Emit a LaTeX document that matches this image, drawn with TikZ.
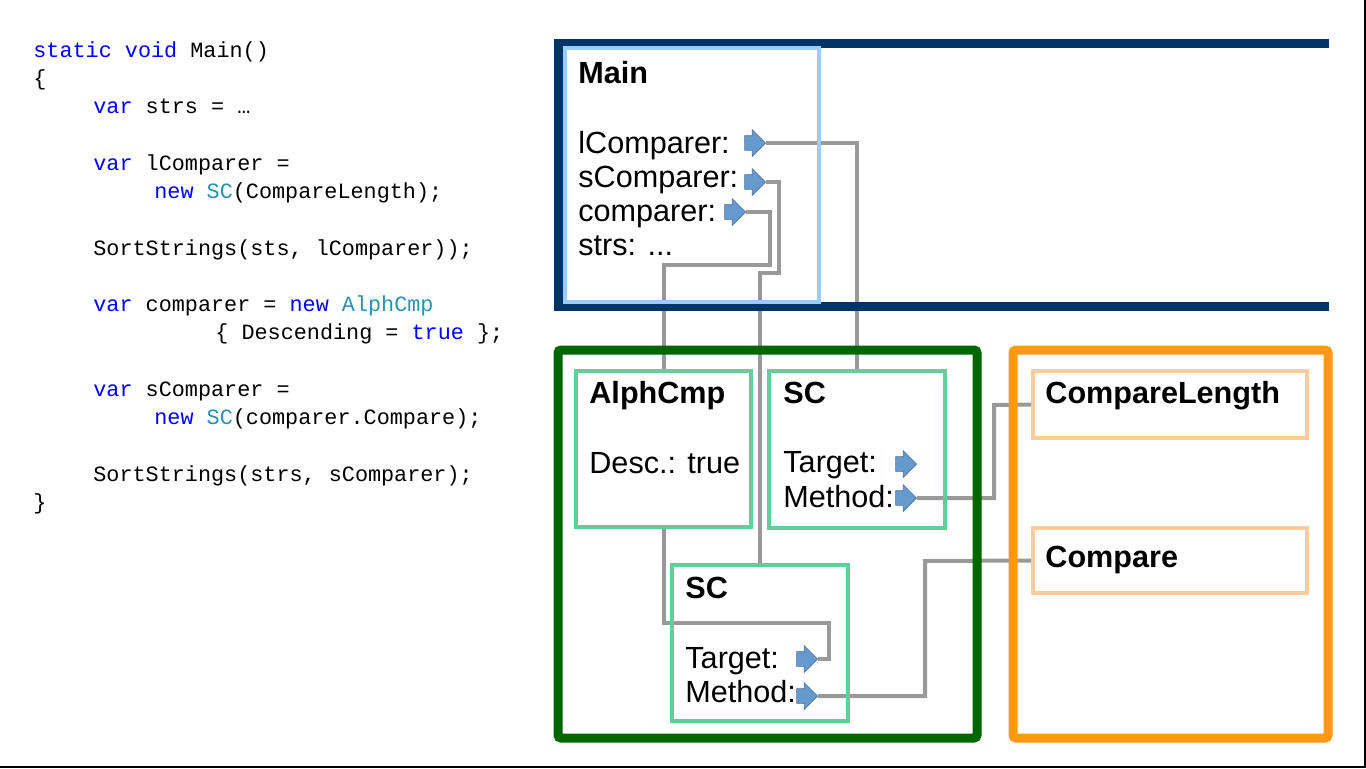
\documentclass[tikz,border=0pt]{standalone}
\usepackage{fontspec}
\setmainfont{Liberation Sans}
\setmonofont{Liberation Mono}
\usepackage{xcolor}
\usetikzlibrary{positioning}
\usetikzlibrary{shapes.arrows}
\usetikzlibrary{backgrounds}

\definecolor{navy}{RGB}{0,51,102}
\definecolor{mainblue}{RGB}{153,204,255}
\definecolor{darkgreen}{RGB}{0,102,0}
\definecolor{mint}{RGB}{102,204,153}
\definecolor{orangeframe}{RGB}{255,153,18}
\definecolor{peach}{RGB}{255,204,153}
\definecolor{refblue}{RGB}{102,153,204}
\definecolor{linkgray}{RGB}{153,153,153}
\definecolor{kwblue}{RGB}{0,0,255}
\definecolor{typeteal}{RGB}{43,145,175}

\tikzset{
  heapframe/.style={line width=4.5pt, rounded corners=1.5pt},
  objbox/.style={draw, line width=2pt, inner sep=0pt},
  refarrow/.style={single arrow, draw=refblue!75!black, fill=refblue, line width=0.3pt,
    minimum height=10.5pt, single arrow head extend=3pt,
    inner xsep=0pt, inner ysep=3.5pt, anchor=tip},
  link/.style={linkgray, line width=2pt},
  code/.style={anchor=base west, inner sep=0pt, font=\ttfamily\fontsize{10.9}{14}\selectfont},
  txt/.style={anchor=base west, inner sep=0pt, font=\fontsize{15.3}{18}\selectfont},
  ttl/.style={anchor=base west, inner sep=0pt, font=\bfseries\fontsize{15.3}{18}\selectfont},
}

\begin{document}
\begin{tikzpicture}[x=0.5pt, y=-0.5pt]
\useasboundingbox (0,0) rectangle (1366,768);

% code listing
\node[code] (c1) at (33,57) {\textcolor{kwblue}{static void} Main()};
\node[code] (c2) at (33,85) {\{};
\node[code] (c3) at (93,113) {\textcolor{kwblue}{var} strs = …};
\node[code] (c4) at (93,170) {\textcolor{kwblue}{var} lComparer =};
\node[code] (c5) at (154,198) {\textcolor{kwblue}{new} \textcolor{typeteal}{SC}(CompareLength);};
\node[code] (c6) at (93,255) {SortStrings(sts, lComparer));};
\node[code] (c7) at (93,311) {\textcolor{kwblue}{var} comparer = \textcolor{kwblue}{new} \textcolor{typeteal}{AlphCmp}};
\node[code] (c8) at (215,339) {\{ Descending = \textcolor{kwblue}{true} \};};
\node[code] (c9) at (93,396) {\textcolor{kwblue}{var} sComparer =};
\node[code] (c10) at (154,424) {\textcolor{kwblue}{new} \textcolor{typeteal}{SC}(comparer.Compare);};
\node[code] (c11) at (93,481) {SortStrings(strs, sComparer);};
\node[code] (c12) at (33,509) {\}};

% stack frame
\draw[navy, line width=4.5pt] (1329,43) -- (558,43) -- (558,306) -- (1329,306);
\node[objbox, draw=mainblue, minimum width=127pt, minimum height=127pt] (mainbox) at (692,175) {};
\node[ttl] (mainlbl) at (578,83) {Main};
\node[txt] (lcmplbl) at (578,153) {lComparer:};
\node[txt] (scmplbl) at (578,187) {sComparer:};
\node[txt] (cmplbl) at (578,221) {comparer:};
\node[txt] (strslbl) at (578,255) {strs: ...};
\node[refarrow] (lcmp) at (766,143) {};
\node[refarrow] (scmp) at (766,182) {};
\node[refarrow] (cmp) at (746,212) {};

% heap objects
\node[heapframe, draw=darkgreen, minimum width=209.5pt, minimum height=194pt] (heap) at (767.5,544) {};
\node[objbox, draw=mint, minimum width=87.5pt, minimum height=78pt] (alph) at (663.5,449) {};
\node[ttl] (alphlbl) at (589,403) {AlphCmp};
\node[txt] (desclbl) at (589,473) {Desc.: true};

\node[objbox, draw=mint, minimum width=88pt, minimum height=78.5pt] (sc1) at (857,449.5) {};
\node[ttl] (sc1lbl) at (783,403) {SC};
\node[txt] (tgt1lbl) at (783,472) {Target:};
\node[txt] (mth1lbl) at (783,507) {Method:};
\node[refarrow] (tgt1) at (917,464) {};
\node[refarrow] (mth1) at (917,498) {};

\node[objbox, draw=mint, minimum width=88pt, minimum height=78pt] (sc2) at (760,643) {};
\node[ttl] (sc2lbl) at (685,598) {SC};
\node[txt] (tgt2lbl) at (685,668) {Target:};
\node[txt] (mth2lbl) at (685,702) {Method:};
\node[refarrow] (tgt2) at (818,659) {};
\node[refarrow] (mth2) at (818,696) {};

% methods
\node[heapframe, draw=orangeframe, minimum width=157.5pt, minimum height=194pt] (code) at (1170.5,544) {};
\node[objbox, draw=peach, minimum width=137pt, minimum height=33.5pt] (clen) at (1170,404.5) {};
\node[ttl] (clenlbl) at (1045,403) {CompareLength};
\node[objbox, draw=peach, minimum width=137pt, minimum height=32.5pt] (cmpfn) at (1170,560.5) {};
\node[ttl] (cmpfnlbl) at (1045,567) {Compare};

% references
\begin{scope}[on background layer]
\draw[link] (lcmp.tip) -| (sc1.north);
\draw[link] (scmp.tip) -| (779,273) -| (sc2.north);
\draw[link] (cmp.tip) -| (770,265) -| (alph.north);
\draw[link] (alph.south) |- (829,623) |- (tgt2.tip);
\draw[link] (mth1.tip) -| (994,405) -- (clen.west);
\draw[link] (mth2.tip) -| (925,561) -- (cmpfn.west);
\end{scope}

\draw[black, line width=1pt] (0,767) -- (1364.5,767) -- (1364.5,0);

\end{tikzpicture}
\end{document}
